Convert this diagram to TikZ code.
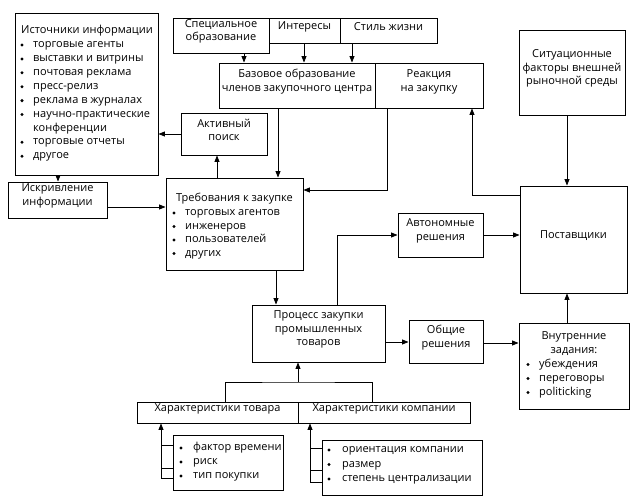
\documentclass[tikz,border=0pt]{standalone}
\usepackage{fontspec}
\setmainfont{Open Sans}
\usetikzlibrary{arrows.meta,fit}
\newcommand\fsz{\fontsize{11}{13.8}\selectfont}
\newcommand\blt[5]{\node[dot] (#1b) at (#2,#4) {}; \node[txt] (#1) at (#3,#4) {#5};}
\begin{document}
\begin{tikzpicture}[x=1pt,y=-1pt,
  box/.style={draw, line width=0.9pt, inner sep=0pt, align=center, font=\fsz},
  arr/.style={-{Triangle[length=6.5pt,width=5pt]}, line width=0.9pt},
  ln/.style={line width=0.9pt},
  dot/.style={circle, fill, inner sep=0pt, minimum size=3.3pt},
  txt/.style={inner sep=0pt, anchor=mid west, font=\fsz},
  ctxt/.style={inner sep=0pt, anchor=mid, font=\fsz}]
\useasboundingbox (0,0) rectangle (641,501);
% boxes
\node[box, fit={(15,13) (158,175)}] (src) {};
\node[ctxt] (srct) at (87,31) {Источники информации};
\blt{s1}{22}{33}{45}{торговые агенты}
\blt{s2}{22}{33}{58.9}{выставки и витрины}
\blt{s3}{22}{33}{72.8}{почтовая реклама}
\blt{s4}{22}{33}{86.7}{пресс-релиз}
\blt{s5}{22}{33}{100.6}{реклама в журналах}
\blt{s6}{22}{33}{114.5}{научно-практические}
\node[txt] (s6c) at (33,128.4) {конференции};
\blt{s7}{22}{33}{142.3}{торговые отчеты}
\blt{s8}{22}{33}{156.2}{другое}

\node[box, fit={(181,113) (267,155)}] (active) {Активный\\поиск};
\node[box, fit={(8,182) (107,218)}] (iskr) {Искривление\\информации};

\node[box, fit={(166,178) (303,270)}] (req) {};
\node[ctxt] (reqt) at (234.5,199) {Требования к закупке};
\blt{r1}{174}{185}{213}{торговых агентов}
\blt{r2}{174}{185}{226.5}{инженеров}
\blt{r3}{174}{185}{240}{пользователей}
\blt{r4}{174}{185}{253.5}{других}

\node[box, fit={(173,18) (269,53)}, font={\fontsize{11}{12.5}\selectfont}] (spec) {Специальное\\образование};
\node[box, fit={(269,18) (340,43)}] (inter) {Интересы};
\node[box, fit={(340,18) (437,43)}] (style) {Стиль жизни};
\node[box, fit={(219,63) (375,108)}] (base) {Базовое образование\\членов закупочного центра};
\node[box, fit={(375,63) (483,108)}] (react) {Реакция\\на закупку};
\node[box, fit={(519,30) (625,115)}] (sit) {Ситуационные\\факторы внешней\\рыночной среды};
\node[box, fit={(520,186) (627,293)}] (post) {Поставщики};
\node[box, fit={(398,213) (483,257)}] (auto) {Автономные\\решения};
\node[box, fit={(252,305) (385,362)}] (proc) {Процесс закупки\\промышленных\\товаров};
\node[box, fit={(409,320) (483,363)}] (common) {Общие\\решения};

\node[box, fit={(519,323) (629,409)}] (inner) {};
\node[ctxt] (in1) at (574,337) {Внутренние};
\node[ctxt] (in2) at (574,351) {задания:};
\blt{i1}{528}{539}{364.5}{убеждения}
\blt{i2}{528}{539}{378.5}{переговоры}
\blt{i3}{528}{539}{392.5}{politicking}

\node[box, fit={(137,402) (298,423)}] (prod) {Характеристики товара};
\node[box, fit={(298,402) (470,423)}] (comp) {Характеристики компании};

\node[box, fit={(173,435) (283,490)}] (plist) {};
\blt{p1}{181}{193}{448}{фактор времени}
\blt{p2}{181}{193}{462}{риск}
\blt{p3}{181}{193}{476}{тип покупки}

\node[box, fit={(322,440) (482,495)}] (clist) {};
\blt{c1}{329}{342}{450}{ориентация компании}
\blt{c2}{329}{342}{464.5}{размер}
\blt{c3}{329}{342}{479}{степень централизации}

% helper coordinates
\coordinate (x1) at (244,0);
\coordinate (x2) at (304,0);
\coordinate (x3) at (352,0);
\coordinate (x4) at (278,0);
\coordinate (x5) at (387,0);
\coordinate (x6) at (217,0);
\coordinate (x7) at (58,0);
\coordinate (x8) at (276,0);
\coordinate (x9) at (337,0);
\coordinate (x10) at (472,0);
\coordinate (x11) at (567,0);
\coordinate (x12) at (225,0);
\coordinate (x13) at (372,0);
\coordinate (x14) at (161,0);
\coordinate (x15) at (310,0);
\coordinate (y1) at (0,190);
\coordinate (y2) at (0,207);
\coordinate (y3) at (0,195);
\coordinate (y4) at (0,342);
\coordinate (y5) at (0,343);
\coordinate (j) at (298,382);
\coordinate (pa) at (0,445);
\coordinate (pb) at (0,468);
\coordinate (pc) at (0,478);
\coordinate (ca) at (0,448);
\coordinate (cb) at (0,470);
\coordinate (cc) at (0,482);

% connectors
\draw[arr] (spec.south -| x1) -- (base.north -| x1);
\draw[arr] (inter.south -| x2) -- (base.north -| x2);
\draw[arr] (style.south -| x3) -- (base.north -| x3);
\draw[arr] (base.south -| x4) -- (req.north -| x4);
\draw[arr] (react.south -| x5) |- (req.east |- y1);
\draw[arr] (req.north -| x6) -- (active.south -| x6);
\draw[arr] (active.west) -- (src.east |- active.west);
\draw[arr] (src.south -| x7) -- (iskr.north -| x7);
\draw[arr] (iskr.east |- y2) -- (req.west |- y2);
\draw[arr] (req.south -| x8) -- (proc.north -| x8);
\draw[arr] (proc.north -| x9) |- (auto.west);
\draw[arr] (auto.east) -- (post.west |- auto.east);
\draw[arr] (post.west |- y3) -| (react.south -| x10);
\draw[arr] (sit.south -| x11) -- (post.north -| x11);
\draw[arr] (proc.east |- y4) -- (common.west |- y4);
\draw[arr] (common.east |- y5) -- (inner.west |- y5);
\draw[arr] (inner.north -| x11) -- (post.south -| x11);
\draw[ln] (prod.north -| x12) |- (j) -| (comp.north -| x13);
\draw[arr] (j) -- (proc.south -| j);
\draw[arr] (plist.west |- pc) -| (prod.south -| x14);
\draw[ln] (x14 |- pa) -- (plist.west |- pa);
\draw[ln] (x14 |- pb) -- (plist.west |- pb);
\draw[arr] (clist.west |- cc) -| (comp.south -| x15);
\draw[ln] (x15 |- ca) -- (clist.west |- ca);
\draw[ln] (x15 |- cb) -- (clist.west |- cb);
\end{tikzpicture}
\end{document}
